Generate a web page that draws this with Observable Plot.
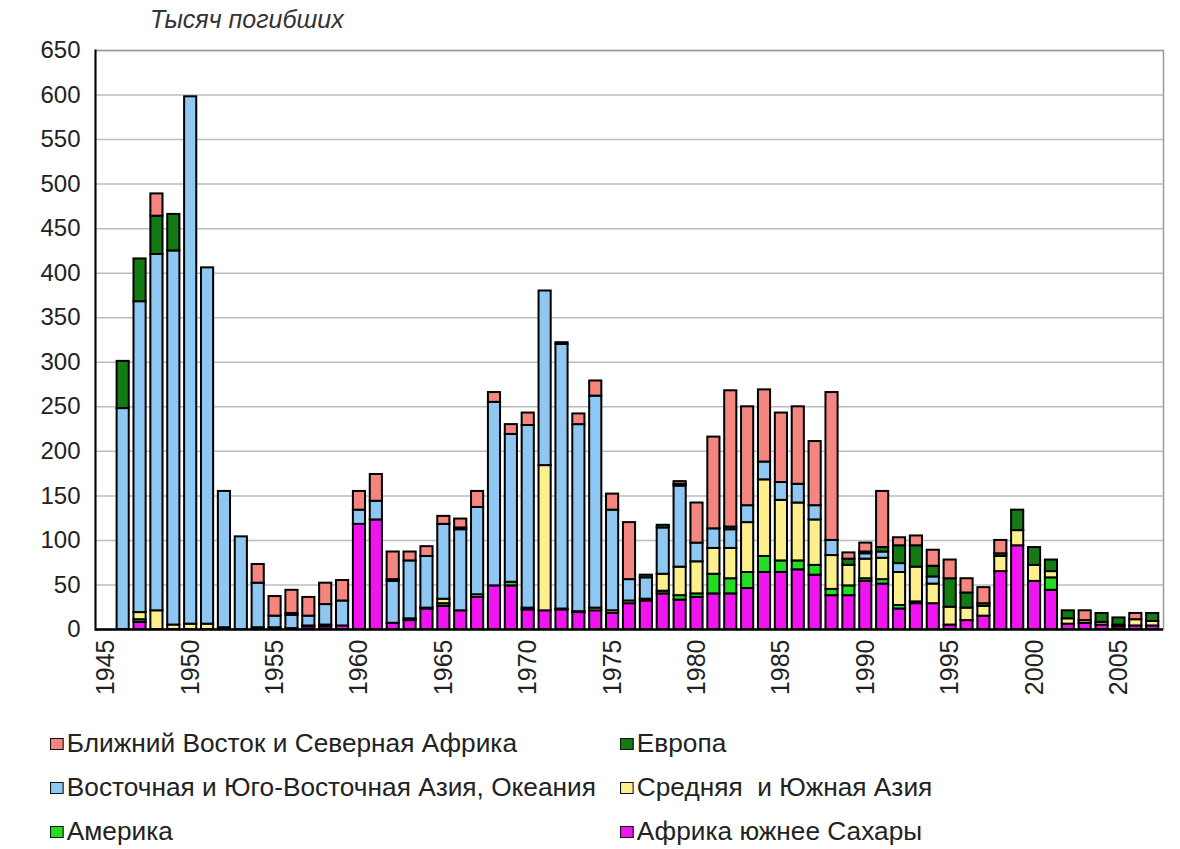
<!DOCTYPE html>
<html>
<head>
<meta charset="utf-8">
<script src="https://cdn.jsdelivr.net/npm/d3@7"></script>
<script src="https://cdn.jsdelivr.net/npm/@observablehq/plot@0.6"></script>
<style>
  body { margin: 0; background: #fff; font-family: "Liberation Sans", Arial, sans-serif; }
  #wrap { position: relative; width: 1180px; height: 849px; overflow: hidden; }
  #title { position: absolute; left: 150px; top: 5px; font-size: 25px; font-style: italic; color: #333; }
  #chart { position: absolute; left: 0; top: 0; }
  .leg { position: absolute; font-size: 25px; color: #222; display: flex; align-items: center; white-space: pre; transform: scaleX(1.05); transform-origin: left center; }
  .sw { width: 11px; height: 10px; border: 1.5px solid #111; margin-right: 3px; }
</style>
</head>
<body>
<div id="wrap">
  <div id="chart"></div>
  <div id="title">Тысяч погибших</div>
  <div id="legend"></div>
</div>
<script>
// Categories (years) and x-axis domain / tick labels
const years = [1946,1947,1948,1949,1950,1951,1952,1953,1954,1955,1956,1957,1958,1959,
  1960,1961,1962,1963,1964,1965,1966,1967,1968,1969,1970,1971,1972,1973,1974,1975,
  1976,1977,1978,1979,1980,1981,1982,1983,1984,1985,1986,1987,1988,1989,1990,1991,
  1992,1993,1994,1995,1996,1997,1998,1999,2000,2001,2002,2003,2004,2005,2006,2007];
const axisYears = [1945].concat(years);
const tickYears = [1945,1950,1955,1960,1965,1970,1975,1980,1985,1990,1995,2000,2005];
const yTicks = [0,50,100,150,200,250,300,350,400,450,500,550,600,650];

// Series (thousand battle deaths), stacking order bottom -> top
const africa = [0,8,0,0,0,0,0,0,0,0,1,3,3,4,
  118,123,7,10,23,26,21,36,49,49,22,21,22,19,21,18,
  29,32,40,33,36,40,40,46,64,64,67,61,38,38,54,51,
  23,29,29,5,10,15,65,94,54,44,6,7,5,3,4,4];
const america = [0,3,0,0,0,0,0,0,2,2,0,0,0,0,
  0,0,0,0,0,3,0,0,0,4,0,0,0,0,0,0,
  0,0,3,5,4,22,17,18,18,13,10,11,7,11,3,5,
  4,2,0,0,0,0,0,0,0,14,0,0,0,0,0,0];
const southAsia = [0,8,21,5,6,6,2,0,0,0,0,1,2,0,
  0,0,0,2,1,5,0,3,0,0,2,163,1,1,3,3,
  3,2,19,32,36,29,34,56,86,68,65,51,38,23,22,24,
  37,39,22,20,14,11,17,17,18,7,6,3,3,2,7,5];
const eastAsia = [248,349,400,420,592,400,153,104,50,13,15,11,23,28,
  16,21,47,65,58,84,91,98,206,166,205,196,297,210,238,113,
  24,24,52,91,21,22,21,19,20,20,21,16,17,0,6,7,
  10,0,8,0,0,0,0,0,0,0,0,0,0,0,0,0];
const europe = [53,48,43,41,0,0,0,0,0,0,2,0,0,0,
  0,0,2,0,0,0,2,0,0,0,0,0,2,0,0,0,
  0,3,3,2,0,0,3,0,0,0,0,0,0,7,2,5,
  20,24,12,32,17,3,3,23,20,13,9,0,10,8,0,9];
const middleEast = [0,0,25,0,0,0,0,0,21,22,26,21,24,23,
  21,30,31,10,11,9,10,18,11,11,14,0,0,12,17,18,
  64,0,0,3,45,103,153,111,81,78,87,72,166,7,10,63,
  9,11,18,21,16,18,15,0,0,0,0,11,0,0,7,0];

const regions = ["Африка южнее Сахары","Америка","Средняя  и Южная Азия",
  "Восточная и Юго-Восточная Азия, Океания","Европа","Ближний Восток и Северная Африка"];
const colors = ["#f014f0","#22dd22","#fdf08c","#8ec8f2","#147a14","#f4857f"];
const series = [africa, america, southAsia, eastAsia, europe, middleEast];

const data = years.flatMap((yr, i) => regions.map((r, j) => ({year: yr, region: r, value: series[j][i]})));

const chart = Plot.plot({
  width: 1180,
  height: 715,
  marginTop: 50,
  marginLeft: 95,
  marginRight: 17,
  marginBottom: 86,
  style: {fontSize: "24px", fontFamily: "Liberation Sans, Arial, sans-serif", color: "#222", background: "#fff"},
  x: {type: "band", domain: axisYears, padding: 0.28, label: null},
  y: {domain: [0, 650], label: null},
  color: {domain: regions, range: colors},
  marks: [
    Plot.gridY(yTicks, {stroke: "#bcbcbc", strokeOpacity: 1, strokeWidth: 1.5}),
    Plot.frame({stroke: "#9a9a9a", strokeWidth: 1.5}),
    Plot.barY(data, Plot.stackY({order: regions}, {x: "year", y: "value", fill: "region", stroke: "#000", strokeWidth: 2})),
    Plot.axisY(yTicks, {tickSize: 0, tickPadding: 15, fontSize: 24}),
    Plot.axisX(tickYears, {tickSize: 0, tickPadding: 10, tickRotate: -90, fontSize: 25, tickFormat: d => String(d)}),
    Plot.frame({anchor: "left", stroke: "#000", strokeWidth: 2}),
    Plot.ruleY([0], {stroke: "#000", strokeWidth: 2.5})
  ]
});
document.getElementById("chart").appendChild(chart);

// Legend
const legendItems = [
  {region: regions[5], left: 50, top: 744},
  {region: regions[4], left: 620, top: 744},
  {region: regions[3], left: 50, top: 788},
  {region: regions[2], left: 620, top: 788},
  {region: regions[1], left: 50, top: 832},
  {region: regions[0], left: 620, top: 832}
];
const leg = document.getElementById("legend");
legendItems.forEach(it => {
  const d = document.createElement("div");
  d.className = "leg";
  d.style.left = it.left + "px";
  d.style.top = (it.top - 15) + "px";
  const sw = document.createElement("span");
  sw.className = "sw";
  sw.style.background = colors[regions.indexOf(it.region)];
  d.appendChild(sw);
  d.appendChild(document.createTextNode(it.region));
  leg.appendChild(d);
});
</script>
</body>
</html>
